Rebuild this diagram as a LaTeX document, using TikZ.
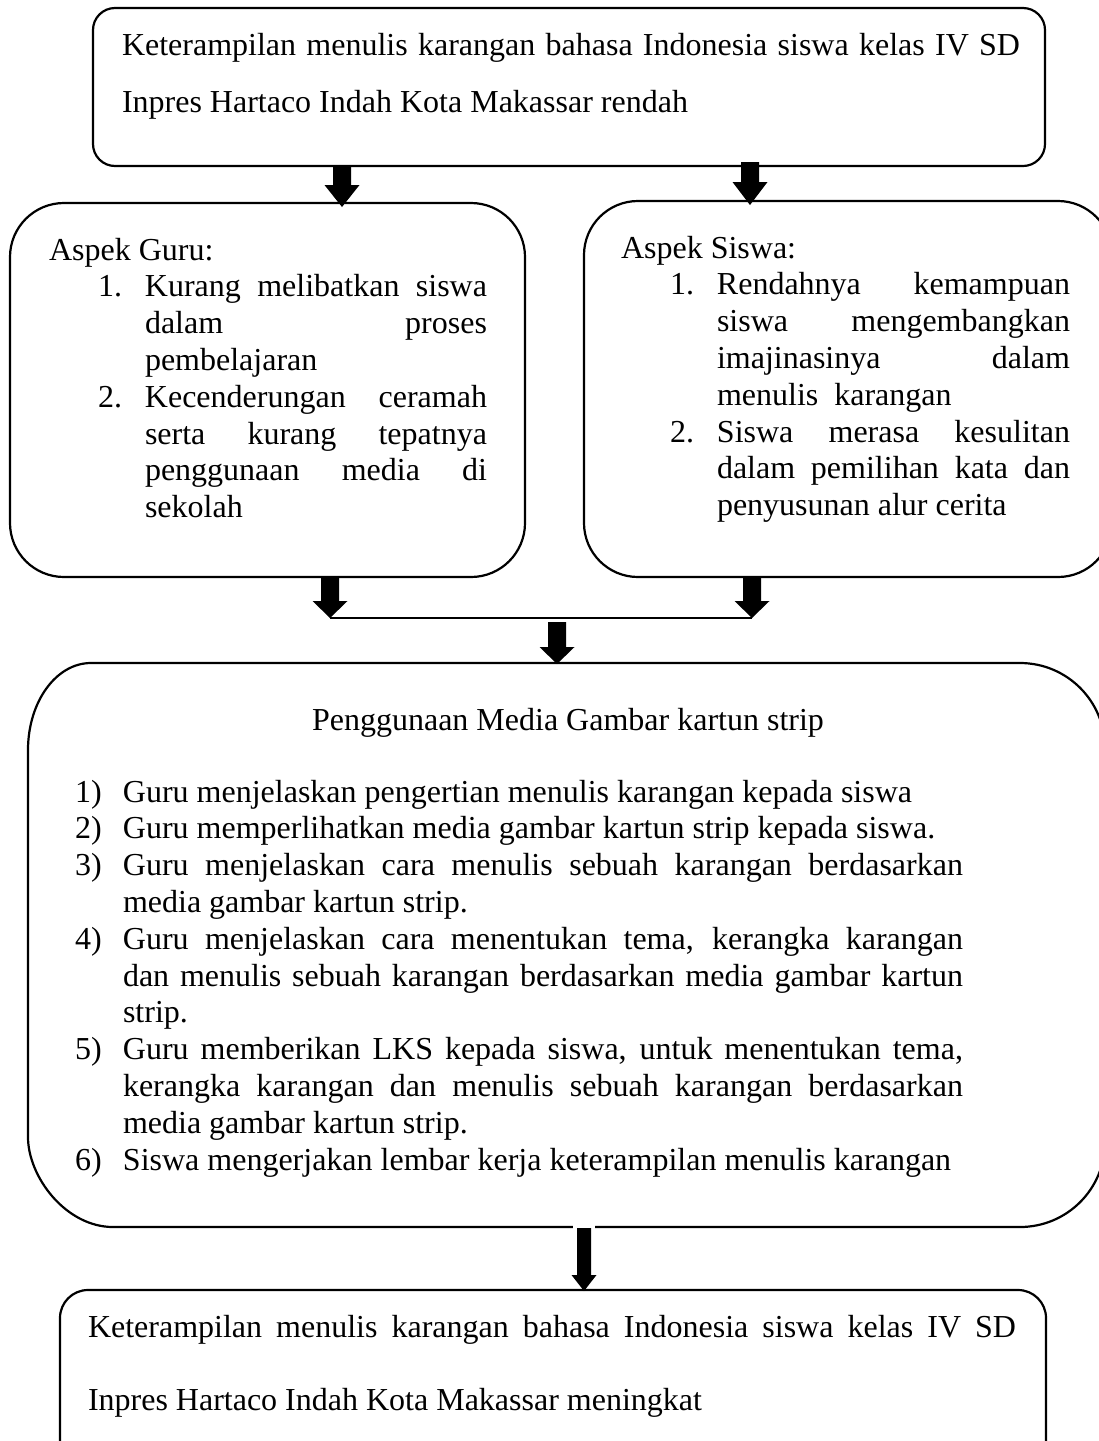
\documentclass[tikz,border=0pt]{standalone}
\usepackage{fontspec}
\setmainfont{Liberation Serif}
\usetikzlibrary{calc}
\newcommand{\blkarrow}[5]{%
  \fill let \p1=(#1), \p2=(#2) in
    ($(\x1,\y1)+(-#3,0pt)$) -- ($(\x1,\y1)+(#3,0pt)$) -- ($(\x1,\y2)+(#3,#5)$) -- ($(\x1,\y2)+(#4,#5)$)
    -- (\x1,\y2) -- ($(\x1,\y2)+(-#4,#5)$) -- ($(\x1,\y2)+(-#3,#5)$) -- cycle;}
\tikzset{
  boxline/.style={draw=black, line width=2.2pt},
  txt/.style={anchor=base west, inner sep=0pt, outer sep=0pt, align=left},
}
\newcommand{\bodyfont}{\fontsize{32}{36.8}\selectfont}
\begin{document}
\begin{tikzpicture}[x=1pt,y=-1pt]
\useasboundingbox (0,0) rectangle (1099,1441);
\fill[white] (0,0) rectangle (1099,1441);
\clip (0,0) rectangle (1099,1441);
\tolerance=10000 \hbadness=10000 \hfuzz=2pt

% ---------- boxes ----------
\draw[boxline, rounded corners=22pt] (93,8) rectangle (1045,166);
\draw[boxline, rounded corners=54pt] (10,203) rectangle (525,577);
\draw[boxline, rounded corners=54pt] (584,201) rectangle (1112,577);
\draw[boxline] (91,663) -- (1020,663)
  .. controls (1067,663) and (1105,701) .. (1105,748) -- (1105,1142)
  .. controls (1105,1189) and (1067,1227) .. (1020,1227) -- (113,1227)
  .. controls (66,1227) and (28,1177) .. (28,1137) -- (28,750)
  .. controls (28,702) and (56,663) .. (91,663) -- cycle;
\draw[boxline, rounded corners=28pt] (60,1290) rectangle (1046,1468);

% ---------- texts ----------
\node[txt] (top) at (122,55) {\begin{minipage}[t]{898pt}\fontsize{32}{57}\selectfont\setlength\parindent{0pt}%
Keterampilan menulis karangan bahasa Indonesia siswa kelas IV SD\linebreak
Inpres Hartaco Indah Kota Makassar rendah\end{minipage}};

\node[txt] (guru) at (49,260) {\begin{minipage}[t]{438pt}\bodyfont\setlength\parindent{0pt}%
Aspek Guru:\par
\leftskip=49pt
\hangindent=47pt \hangafter=1 \makebox[47pt][l]{1.}Kurang melibatkan siswa\linebreak dalam proses\linebreak pembelajaran\par
\hangindent=47pt \hangafter=1 \makebox[47pt][l]{2.}Kecenderungan ceramah\linebreak serta kurang tepatnya\linebreak penggunaan media di\linebreak sekolah\par
\end{minipage}};

\node[txt] (siswa) at (621,258) {\begin{minipage}[t]{449pt}\bodyfont\setlength\parindent{0pt}%
Aspek Siswa:\par
\leftskip=49pt
\hangindent=47pt \hangafter=1 \makebox[47pt][l]{1.}Rendahnya kemampuan\linebreak siswa mengembangkan\linebreak imajinasinya dalam\linebreak menulis\ \ karangan\par
\hangindent=47pt \hangafter=1 \makebox[47pt][l]{2.}Siswa merasa kesulitan\linebreak dalam pemilihan kata dan\linebreak penyusunan alur cerita\par
\end{minipage}};

\node[anchor=base, inner sep=0pt] (judul) at (568,730) {\bodyfont Penggunaan Media Gambar kartun strip};

\node[txt] (langkah) at (75,802) {\begin{minipage}[t]{888pt}\bodyfont\setlength\parindent{0pt}%
\hangindent=48pt \hangafter=1 \makebox[48pt][l]{1)}Guru menjelaskan pengertian menulis karangan kepada siswa\par
\hangindent=48pt \hangafter=1 \makebox[48pt][l]{2)}Guru memperlihatkan media gambar kartun strip kepada siswa.\par
\hangindent=48pt \hangafter=1 \makebox[48pt][l]{3)}Guru menjelaskan cara menulis sebuah karangan berdasarkan\linebreak media gambar kartun strip.\par
\hangindent=48pt \hangafter=1 \makebox[48pt][l]{4)}Guru menjelaskan cara menentukan tema, kerangka karangan\linebreak dan menulis sebuah karangan berdasarkan media gambar kartun\linebreak strip.\par
\hangindent=48pt \hangafter=1 \makebox[48pt][l]{5)}Guru memberikan LKS kepada siswa, untuk menentukan tema,\linebreak kerangka karangan dan menulis sebuah karangan berdasarkan\linebreak media gambar kartun strip.\par
\hangindent=48pt \hangafter=1 \makebox[48pt][l]{6)}Siswa mengerjakan lembar kerja keterampilan menulis karangan\par
\end{minipage}};

\node[txt] (hasil) at (88,1337) {\begin{minipage}[t]{928pt}\fontsize{32}{73}\selectfont\setlength\parindent{0pt}%
Keterampilan menulis karangan bahasa Indonesia siswa kelas IV SD\linebreak
Inpres Hartaco Indah Kota Makassar meningkat\end{minipage}};

% ---------- connector points ----------
\coordinate (a1s) at (342,166); \coordinate (a1e) at (342,207);
\coordinate (a2s) at (750,162); \coordinate (a2e) at (750,205);
\coordinate (a3s) at (330,576); \coordinate (a3e) at (330,618);
\coordinate (a4s) at (752,576); \coordinate (a4e) at (752,618);
\coordinate (a5s) at (557,622); \coordinate (a5e) at (557,664);
\coordinate (a6s) at (584,1228); \coordinate (a6e) at (584,1291);

% ---------- connectors ----------
\blkarrow{a1s}{a1e}{9pt}{17.5pt}{22pt}
\blkarrow{a2s}{a2e}{9pt}{17.5pt}{23pt}
\blkarrow{a3s}{a3e}{9pt}{17.5pt}{17pt}
\blkarrow{a4s}{a4e}{9pt}{17.5pt}{17pt}
\draw[line width=2.2pt] (a3e) -- (a4e);
\blkarrow{a5s}{a5e}{9pt}{17.5pt}{17pt}
\fill[white] (573,1224) rectangle (595,1231);
\blkarrow{a6s}{a6e}{7pt}{12.5pt}{16pt}
\end{tikzpicture}
\end{document}
